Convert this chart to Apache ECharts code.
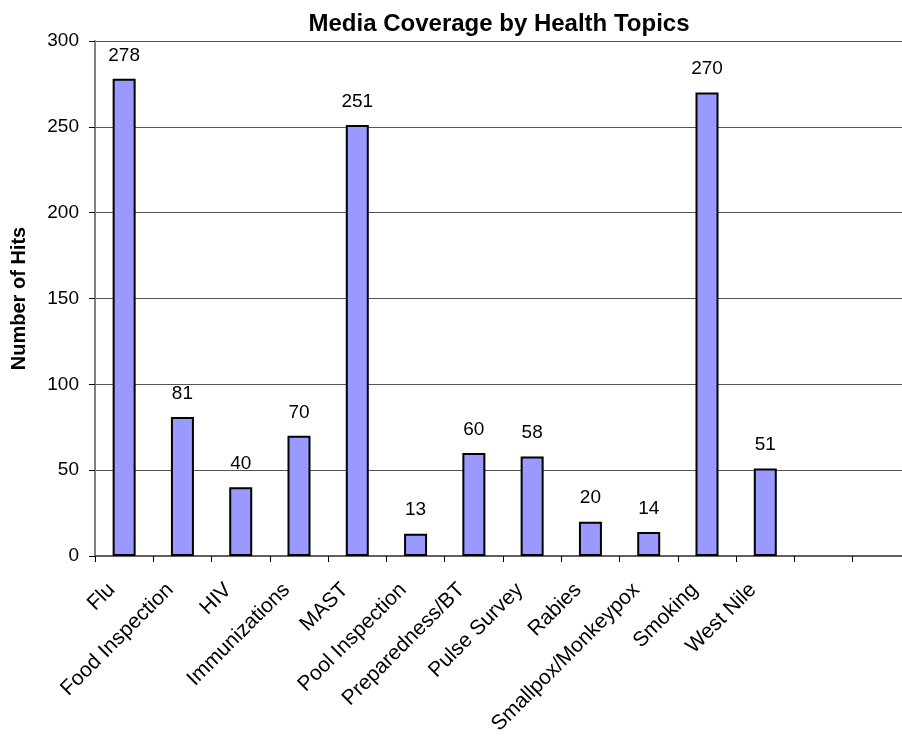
<!DOCTYPE html>
<html>
<head>
<meta charset="utf-8">
<script src="https://cdn.jsdelivr.net/npm/echarts@6/dist/echarts.min.js"></script>
<style>html,body{margin:0;padding:0;background:#fff}#c{width:902px;height:736px}</style>
</head>
<body>
<div id="c"></div>
<script>
const categories = ['Flu','Food Inspection','HIV','Immunizations','MAST','Pool Inspection','Preparedness/BT','Pulse Survey','Rabies','Smallpox/Monkeypox','Smoking','West Nile','',''];
const hits = [278,81,40,70,251,13,60,58,20,14,270,51,null,null];
const yTicks = [0,50,100,150,200,250,300];

const chart = echarts.init(document.getElementById('c'), null, {renderer:'canvas'});
const font = '"Liberation Sans", Arial, sans-serif';
chart.setOption({
  animation:false,
  backgroundColor:'#fff',
  title:{text:'Media Coverage by Health Topics', left:494, textAlign:'center', top:7,
    textStyle:{fontFamily:font, fontSize:24, fontWeight:'bold', color:'#000'}},
  grid:{left:95, top:41, width:816, height:515, outerBoundsMode:'none', containLabel:false},
  xAxis:{type:'category', data:categories,
    axisLine:{lineStyle:{color:'#606060', width:2}},
    axisTick:{show:true, length:6, lineStyle:{color:'#000', width:1}},
    axisLabel:{rotate:45, interval:0, fontFamily:font, fontSize:21, color:'#000', margin:43, verticalAlign:'bottom', padding:[0,0,7,0]}},
  yAxis:{type:'value', min:yTicks[0], max:yTicks[yTicks.length-1], interval:50,
    name:'Number of Hits', nameLocation:'middle', nameGap:66, nameRotate:90,
    nameTextStyle:{fontFamily:font, fontSize:20, fontWeight:'bold', color:'#000'},
    axisLine:{show:true, lineStyle:{color:'#808080', width:2}},
    axisTick:{show:true, length:6, lineStyle:{color:'#000'}},
    axisLabel:{fontFamily:font, fontSize:19, color:'#000', margin:16},
    splitLine:{show:true, lineStyle:{color:'#555', width:1}}},
  series:[{type:'bar', data:hits, barWidth:23,
    itemStyle:{color:'#9999FF', borderColor:'#000', borderWidth:2},
    label:{show:true, position:'top', distance:14, fontFamily:font, fontSize:19, color:'#000'}}]
});
</script>
</body>
</html>
